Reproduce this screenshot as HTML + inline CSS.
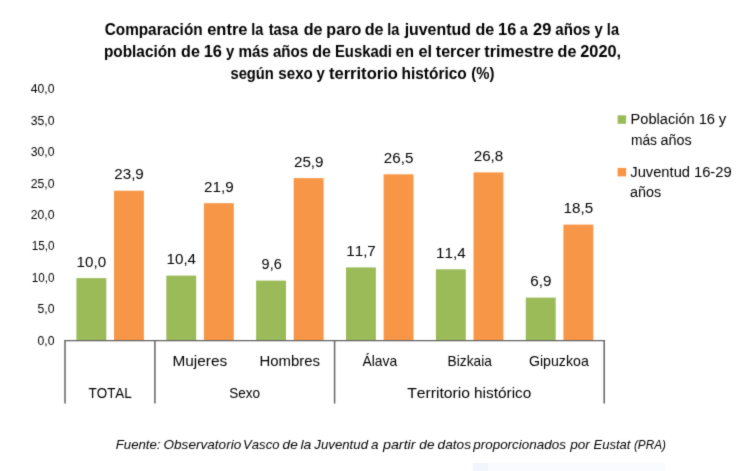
<!DOCTYPE html>
<html lang="es"><head><meta charset="utf-8"><title>Tasa de paro juventud Euskadi 2020</title>
<style>
html,body{margin:0;padding:0;background:#fff;}
body{width:750px;height:471px;overflow:hidden;}
svg{display:block;}
text{font-family:"Liberation Sans",sans-serif;fill:#000;font-kerning:none;white-space:pre;}
.t{font-weight:bold;}
.f{font-style:italic;}
</style></head><body>
<svg width="750" height="471" viewBox="0 0 750 471">
<defs><filter id="soft" x="0" y="0" width="750" height="471" filterUnits="userSpaceOnUse" color-interpolation-filters="sRGB"><feConvolveMatrix order="3" kernelMatrix="0.0169 0.0962 0.0169 0.0962 0.5476 0.0962 0.0169 0.0962 0.0169" edgeMode="duplicate" preserveAlpha="true"/></filter></defs>
<g filter="url(#soft)">
<rect x="-5" y="-5" width="760" height="481" fill="#ffffff"/>
<rect x="473" y="463" width="192" height="13" fill="#f9fbfe"/>
<rect x="473" y="463" width="15" height="13" fill="#f1f6fc"/>
<rect x="76.4" y="278.1" width="29.9" height="62.9" fill="#9BBB59"/>
<rect x="114.0" y="190.7" width="29.9" height="150.3" fill="#F79646"/>
<rect x="166.3" y="275.6" width="29.9" height="65.4" fill="#9BBB59"/>
<rect x="203.9" y="203.2" width="29.9" height="137.8" fill="#F79646"/>
<rect x="256.1" y="280.6" width="29.9" height="60.4" fill="#9BBB59"/>
<rect x="293.7" y="178.1" width="29.9" height="162.9" fill="#F79646"/>
<rect x="346.0" y="267.4" width="29.9" height="73.6" fill="#9BBB59"/>
<rect x="383.6" y="174.3" width="29.9" height="166.7" fill="#F79646"/>
<rect x="435.9" y="269.3" width="29.9" height="71.7" fill="#9BBB59"/>
<rect x="473.5" y="172.4" width="29.9" height="168.6" fill="#F79646"/>
<rect x="525.8" y="297.6" width="29.9" height="43.4" fill="#9BBB59"/>
<rect x="563.4" y="224.6" width="29.9" height="116.4" fill="#F79646"/>
<g stroke="#626262" fill="none">
<line x1="64.3" y1="340.6" x2="604.9" y2="340.6" stroke-width="1.2"/>
<line x1="65.0" y1="340.6" x2="65.0" y2="403.5" stroke-width="1.5"/>
<line x1="154.9" y1="340.6" x2="154.9" y2="403.5" stroke-width="1.5"/>
<line x1="334.6" y1="340.6" x2="334.6" y2="403.5" stroke-width="1.5"/>
<line x1="604.2" y1="340.6" x2="604.2" y2="403.5" stroke-width="1.5"/>
</g>
<rect x="617.6" y="115.3" width="8.5" height="8.5" fill="#9BBB59"/>
<rect x="617.6" y="167.9" width="8.5" height="8.5" fill="#F79646"/>
<text class="t" font-size="16.56" y="34.50"><tspan x="104.74" textLength="97.86" lengthAdjust="spacingAndGlyphs">Comparación</tspan> <tspan x="207.14" textLength="40.37" lengthAdjust="spacingAndGlyphs">entre</tspan> <tspan x="251.20" textLength="12.14" lengthAdjust="spacingAndGlyphs">la</tspan> <tspan x="268.64" textLength="29.46" lengthAdjust="spacingAndGlyphs">tasa</tspan> <tspan x="303.68" textLength="18.80" lengthAdjust="spacingAndGlyphs">de</tspan> <tspan x="326.36" textLength="34.87" lengthAdjust="spacingAndGlyphs">paro</tspan> <tspan x="364.79" textLength="18.80" lengthAdjust="spacingAndGlyphs">de</tspan> <tspan x="387.27" textLength="12.14" lengthAdjust="spacingAndGlyphs">la</tspan> <tspan x="404.67" textLength="66.19" lengthAdjust="spacingAndGlyphs">juventud</tspan> <tspan x="475.40" textLength="18.80" lengthAdjust="spacingAndGlyphs">de</tspan> <tspan x="498.06" textLength="18.26" lengthAdjust="spacingAndGlyphs">16</tspan> <tspan x="519.83" textLength="8.10" lengthAdjust="spacingAndGlyphs">a</tspan> <tspan x="533.11" textLength="18.27" lengthAdjust="spacingAndGlyphs">29</tspan> <tspan x="555.29" textLength="35.24" lengthAdjust="spacingAndGlyphs">años</tspan> <tspan x="594.52" textLength="8.28" lengthAdjust="spacingAndGlyphs">y</tspan> <tspan x="606.87" textLength="12.14" lengthAdjust="spacingAndGlyphs">la</tspan></text>
<text class="t" font-size="16.56" y="57.20"><tspan x="103.93" textLength="72.57" lengthAdjust="spacingAndGlyphs">población</tspan> <tspan x="181.05" textLength="18.80" lengthAdjust="spacingAndGlyphs">de</tspan> <tspan x="203.71" textLength="18.26" lengthAdjust="spacingAndGlyphs">16</tspan> <tspan x="225.88" textLength="8.28" lengthAdjust="spacingAndGlyphs">y</tspan> <tspan x="238.48" textLength="30.49" lengthAdjust="spacingAndGlyphs">más</tspan> <tspan x="272.97" textLength="35.24" lengthAdjust="spacingAndGlyphs">años</tspan> <tspan x="312.20" textLength="18.80" lengthAdjust="spacingAndGlyphs">de</tspan> <tspan x="334.95" textLength="56.92" lengthAdjust="spacingAndGlyphs">Euskadi</tspan> <tspan x="395.77" textLength="18.11" lengthAdjust="spacingAndGlyphs">en</tspan> <tspan x="418.43" textLength="13.59" lengthAdjust="spacingAndGlyphs">el</tspan> <tspan x="435.87" textLength="44.52" lengthAdjust="spacingAndGlyphs">tercer</tspan> <tspan x="484.34" textLength="69.41" lengthAdjust="spacingAndGlyphs">trimestre</tspan> <tspan x="557.60" textLength="18.80" lengthAdjust="spacingAndGlyphs">de</tspan> <tspan x="580.25" textLength="40.86" lengthAdjust="spacingAndGlyphs">2020,</tspan></text>
<text class="t" font-size="16.56" y="79.10"><tspan x="230.49" textLength="43.32" lengthAdjust="spacingAndGlyphs">según</tspan> <tspan x="278.36" textLength="34.46" lengthAdjust="spacingAndGlyphs">sexo</tspan> <tspan x="316.39" textLength="8.28" lengthAdjust="spacingAndGlyphs">y</tspan> <tspan x="328.91" textLength="69.00" lengthAdjust="spacingAndGlyphs">territorio</tspan> <tspan x="401.53" textLength="65.23" lengthAdjust="spacingAndGlyphs">histórico</tspan> <tspan x="471.32" textLength="23.07" lengthAdjust="spacingAndGlyphs">(%)</tspan></text>
<text font-size="12.26" y="344.80"><tspan x="37.49" textLength="16.94" lengthAdjust="spacingAndGlyphs">0,0</tspan></text>
<text font-size="12.26" y="313.35"><tspan x="37.49" textLength="16.94" lengthAdjust="spacingAndGlyphs">5,0</tspan></text>
<text font-size="12.26" y="281.90"><tspan x="31.70" textLength="22.74" lengthAdjust="spacingAndGlyphs">10,0</tspan></text>
<text font-size="12.26" y="250.45"><tspan x="31.70" textLength="22.74" lengthAdjust="spacingAndGlyphs">15,0</tspan></text>
<text font-size="12.26" y="219.00"><tspan x="30.70" textLength="23.73" lengthAdjust="spacingAndGlyphs">20,0</tspan></text>
<text font-size="12.26" y="187.55"><tspan x="30.70" textLength="23.73" lengthAdjust="spacingAndGlyphs">25,0</tspan></text>
<text font-size="12.26" y="156.10"><tspan x="30.70" textLength="23.73" lengthAdjust="spacingAndGlyphs">30,0</tspan></text>
<text font-size="12.26" y="124.65"><tspan x="30.70" textLength="23.73" lengthAdjust="spacingAndGlyphs">35,0</tspan></text>
<text font-size="12.26" y="93.20"><tspan x="30.70" textLength="23.73" lengthAdjust="spacingAndGlyphs">40,0</tspan></text>
<text font-size="15.02" y="266.80"><tspan x="76.64" textLength="29.57" lengthAdjust="spacingAndGlyphs">10,0</tspan></text>
<text font-size="15.02" y="179.37"><tspan x="114.24" textLength="29.59" lengthAdjust="spacingAndGlyphs">23,9</tspan></text>
<text font-size="15.02" y="264.28"><tspan x="166.51" textLength="29.57" lengthAdjust="spacingAndGlyphs">10,4</tspan></text>
<text font-size="15.02" y="191.95"><tspan x="204.11" textLength="29.59" lengthAdjust="spacingAndGlyphs">21,9</tspan></text>
<text font-size="15.02" y="269.32"><tspan x="261.61" textLength="20.11" lengthAdjust="spacingAndGlyphs">9,6</tspan></text>
<text font-size="15.02" y="166.79"><tspan x="293.98" textLength="29.59" lengthAdjust="spacingAndGlyphs">25,9</tspan></text>
<text font-size="15.02" y="256.11"><tspan x="346.25" textLength="29.57" lengthAdjust="spacingAndGlyphs">11,7</tspan></text>
<text font-size="15.02" y="163.01"><tspan x="383.85" textLength="29.59" lengthAdjust="spacingAndGlyphs">26,5</tspan></text>
<text font-size="15.02" y="257.99"><tspan x="436.12" textLength="29.57" lengthAdjust="spacingAndGlyphs">11,4</tspan></text>
<text font-size="15.02" y="161.13"><tspan x="473.72" textLength="29.59" lengthAdjust="spacingAndGlyphs">26,8</tspan></text>
<text font-size="15.02" y="286.30"><tspan x="530.20" textLength="21.16" lengthAdjust="spacingAndGlyphs">6,9</tspan></text>
<text font-size="15.02" y="213.33"><tspan x="563.59" textLength="29.57" lengthAdjust="spacingAndGlyphs">18,5</tspan></text>
<text font-size="14.91" y="366.10"><tspan x="172.46" textLength="54.75" lengthAdjust="spacingAndGlyphs">Mujeres</tspan></text>
<text font-size="14.91" y="366.10"><tspan x="259.46" textLength="60.52" lengthAdjust="spacingAndGlyphs">Hombres</tspan></text>
<text font-size="14.91" y="366.10"><tspan x="362.49" textLength="34.65" lengthAdjust="spacingAndGlyphs">Álava</tspan></text>
<text font-size="14.91" y="366.10"><tspan x="447.61" textLength="44.23" lengthAdjust="spacingAndGlyphs">Bizkaia</tspan></text>
<text font-size="14.91" y="366.10"><tspan x="528.92" textLength="59.86" lengthAdjust="spacingAndGlyphs">Gipuzkoa</tspan></text>
<text font-size="14.91" y="397.80"><tspan x="88.48" textLength="43.33" lengthAdjust="spacingAndGlyphs">TOTAL</tspan></text>
<text font-size="14.91" y="397.80"><tspan x="229.13" textLength="30.90" lengthAdjust="spacingAndGlyphs">Sexo</tspan></text>
<text font-size="14.91" y="397.80"><tspan x="407.20" textLength="62.88" lengthAdjust="spacingAndGlyphs">Territorio</tspan> <tspan x="474.01" textLength="57.33" lengthAdjust="spacingAndGlyphs">histórico</tspan></text>
<text font-size="14.82" y="123.80"><tspan x="630.51" textLength="64.19" lengthAdjust="spacingAndGlyphs">Población</tspan> <tspan x="698.64" textLength="16.44" lengthAdjust="spacingAndGlyphs">16</tspan> <tspan x="718.70" textLength="7.41" lengthAdjust="spacingAndGlyphs">y</tspan></text>
<text font-size="14.82" y="144.80"><tspan x="630.90" textLength="26.06" lengthAdjust="spacingAndGlyphs">más</tspan> <tspan x="660.58" textLength="31.19" lengthAdjust="spacingAndGlyphs">años</tspan></text>
<text font-size="14.82" y="176.60"><tspan x="630.30" textLength="59.70" lengthAdjust="spacingAndGlyphs">Juventud</tspan> <tspan x="693.93" textLength="37.80" lengthAdjust="spacingAndGlyphs">16-29</tspan></text>
<text font-size="14.82" y="197.00"><tspan x="630.10" textLength="31.19" lengthAdjust="spacingAndGlyphs">años</tspan></text>
<text class="f" font-size="13.40" y="448.60"><tspan x="115.78" textLength="44.79" lengthAdjust="spacingAndGlyphs">Fuente:</tspan> <tspan x="163.46" textLength="77.80" lengthAdjust="spacingAndGlyphs">Observatorio</tspan> <tspan x="243.09" textLength="36.38" lengthAdjust="spacingAndGlyphs">Vasco</tspan> <tspan x="282.58" textLength="15.11" lengthAdjust="spacingAndGlyphs">de</tspan> <tspan x="300.41" textLength="10.92" lengthAdjust="spacingAndGlyphs">la</tspan> <tspan x="314.36" textLength="53.63" lengthAdjust="spacingAndGlyphs">Juventud</tspan> <tspan x="371.06" textLength="7.51" lengthAdjust="spacingAndGlyphs">a</tspan> <tspan x="382.96" textLength="32.61" lengthAdjust="spacingAndGlyphs">partir</tspan> <tspan x="419.37" textLength="15.11" lengthAdjust="spacingAndGlyphs">de</tspan> <tspan x="437.58" textLength="33.46" lengthAdjust="spacingAndGlyphs">datos</tspan> <tspan x="473.23" textLength="92.70" lengthAdjust="spacingAndGlyphs">proporcionados</tspan> <tspan x="570.19" textLength="19.66" lengthAdjust="spacingAndGlyphs">por</tspan> <tspan x="593.53" textLength="36.90" lengthAdjust="spacingAndGlyphs">Eustat</tspan> <tspan x="633.94" textLength="32.11" lengthAdjust="spacingAndGlyphs">(PRA)</tspan></text>
</g>
</svg>
</body></html>
